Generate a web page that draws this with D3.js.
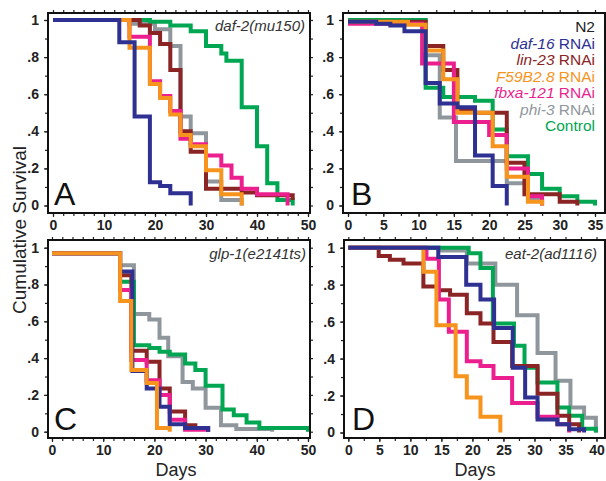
<!DOCTYPE html>
<html><head><meta charset="utf-8">
<script src="https://cdn.jsdelivr.net/npm/d3@7"></script>
<style>body{margin:0;background:#fff}svg{display:block}</style>
</head><body><svg id="c" width="606" height="481"></svg>
<script>
// ---------- DATA ----------
const seriesNames = ["daf-16", "lin-23", "F59B2.8", "fbxa-121", "phi-3", "Control"];
const yTicks = [0, 0.2, 0.4, 0.6, 0.8, 1];
const yTickLabels = ["0", ".2", ".4", ".6", ".8", "1"];
const xTicksA = [0, 10, 20, 30, 40, 50];
const xTicksB = [0, 5, 10, 15, 20, 25, 30, 35];
const xTicksC = [0, 10, 20, 30, 40, 50];
const xTicksD = [0, 5, 10, 15, 20, 25, 30, 35, 40];

// Panel A: daf-2(mu150)  [day, survival]
const A_daf16 = [[0,1],[13,0.88],[16,0.48],[19,0.125],[21,0.105],[23,0.066],[27,0]];
const A_lin23 = [[0,1],[17,0.97],[19,0.93],[21,0.87],[23,0.73],[25,0.40],[27,0.29],[30,0.09],[37,0.07],[40,0.055],[47,0.03]];
const A_F59 = [[0,1],[15,0.85],[19,0.655],[21,0.58],[23,0.49],[25,0.38],[27,0.32],[30,0.19],[33,0.06],[37,0]];
const A_fbxa = [[0,1],[15,0.91],[19,0.67],[21,0.59],[23,0.51],[25,0.36],[27,0.33],[30,0.27],[33,0.215],[35,0.15],[37,0.09],[40,0.06],[46,0]];
const A_phi3 = [[0,1],[15,0.98],[20,0.95],[23,0.86],[25,0.48],[27,0.39],[30,0.13],[33,0.03],[37,0]];
const A_ctrl = [[0,1],[19,0.99],[23,0.97],[27,0.94],[30,0.86],[33,0.82],[34,0.78],[37,0.53],[40,0.32],[42,0.12],[44,0.03],[47,0]];

// Panel B: N2
const B_daf16 = [[0,0.99],[4,0.98],[6,0.97],[8,0.94],[11,0.66],[13,0.55],[15.5,0.53],[18,0.27],[20.5,0.105],[22.5,0]];
const B_lin23 = [[0,0.99],[11,0.86],[13.5,0.73],[15.5,0.52],[18,0.50],[22.5,0.23],[25,0.06],[30,0.02],[32.5,0]];
const B_F59 = [[0,0.99],[8.5,0.975],[11,0.835],[13.5,0.68],[15.5,0.50],[20.5,0.32],[22.5,0.155],[25.5,0.02],[27.5,0]];
const B_fbxa = [[0,0.98],[10.5,0.765],[15,0.45],[20,0.38],[22.5,0.2],[25.5,0.05],[27.5,0]];
const B_phi3 = [[0,1],[11,0.81],[13,0.475],[15.3,0.24],[22.5,0.12],[25.5,0.03],[27.5,0]];
const B_ctrl = [[0,1],[11,0.635],[13.5,0.585],[18,0.565],[20.5,0.41],[22.5,0.265],[25.5,0.17],[27.5,0.09],[30,0.05],[32.5,0.02],[35,0]];

// Panel C: glp-1(e2141ts)
const C_daf16 = [[0,0.97],[13.3,0.87],[15.7,0.33],[18.5,0.235],[21,0.135],[23,0.04],[26,0.02],[30.5,0]];
const C_lin23 = [[0,0.97],[13.3,0.85],[15.5,0.44],[18.5,0.38],[21,0.235],[23,0.11],[26,0.035],[28,0.02],[30.5,0]];
const C_F59 = [[0,0.97],[13.3,0.71],[15.5,0.335],[18.5,0.265],[20.5,0.02],[23,0]];
const C_fbxa = [[0,0.97],[13.3,0.77],[15.5,0.39],[18.5,0.28],[21,0.20],[23,0.065],[26,0.01],[30,0]];
const C_phi3 = [[0,0.97],[13.3,0.905],[16,0.64],[19,0.61],[21,0.51],[22.7,0.41],[25.5,0.27],[27.5,0.235],[30,0.13],[33,0.035],[36,0.015],[43,0]];
const C_ctrl = [[0,0.97],[13.3,0.815],[16,0.47],[19,0.455],[21,0.435],[23,0.42],[26,0.37],[28,0.335],[30,0.25],[33.3,0.12],[35.5,0.09],[38,0.05],[40.5,0.02],[50,0]];

// Panel D: eat-2(ad1116)
const D_daf16 = [[0,1],[14.5,0.95],[19,0.80],[21.3,0.72],[23.5,0.565],[26.5,0.35],[28.5,0.19],[30.5,0.07],[33.7,0.045],[35.6,0.018],[38,0]];
const D_lin23 = [[0,1],[4.9,0.955],[6.7,0.935],[8.9,0.915],[12.1,0.79],[14.3,0.77],[16.4,0.745],[19.1,0.645],[21.3,0.59],[23.4,0.49],[26.4,0.36],[30.5,0.21],[33.7,0.09],[35.6,0.045],[37.2,0]];
const D_F59 = [[0,1],[12.1,0.87],[14.2,0.58],[17.3,0.305],[19.1,0.19],[21.3,0.085],[24.5,0]];
const D_fbxa = [[0,1],[12.6,0.94],[14.6,0.72],[16.2,0.545],[19.1,0.385],[21.3,0.36],[23.4,0.295],[26.4,0.16],[30.5,0.085],[33.7,0.045],[35.6,0]];
const D_phi3 = [[0,1],[14.6,0.985],[19.1,0.915],[23.7,0.80],[27.2,0.635],[30.5,0.43],[33.4,0.28],[35.8,0.135],[38,0.08],[39.9,0]];
const D_ctrl = [[0,1],[19.4,0.97],[21.3,0.89],[23.3,0.59],[26.7,0.47],[28.4,0.35],[30.5,0.27],[33.7,0.135],[35.6,0.09],[37.7,0.02],[39.9,0]];

// ---------- STYLE / LAYOUT ----------
const color = {"daf-16":"#2e3192","lin-23":"#8b2424","F59B2.8":"#f7941d","fbxa-121":"#ec1f8e","phi-3":"#8f979c","Control":"#00a651"};
const FONT = "Arial, 'Liberation Sans', Helvetica, sans-serif";

const panels = [
  {letter:"A", box:[48,13,310,213], xr:[53,308], yr:[205.5,20], xdom:[0,50], xt:xTicksA, xminor:2, title:"daf-2(mu150)", titleX:305, titleY:31,
   series:{"daf-16":A_daf16,"lin-23":A_lin23,"F59B2.8":A_F59,"fbxa-121":A_fbxa,"phi-3":A_phi3,"Control":A_ctrl},
   order:["phi-3","Control","lin-23","fbxa-121","F59B2.8","daf-16"]},
  {letter:"B", box:[343,13,605,213], xr:[348,595], yr:[205.5,20], xdom:[0,35], xt:xTicksB, xminor:2.5, title:null,
   series:{"daf-16":B_daf16,"lin-23":B_lin23,"F59B2.8":B_F59,"fbxa-121":B_fbxa,"phi-3":B_phi3,"Control":B_ctrl},
   order:["phi-3","Control","lin-23","fbxa-121","F59B2.8","daf-16"]},
  {letter:"C", box:[48,240,310,438], xr:[52,308], yr:[431.7,247.7], xdom:[0,50], xt:xTicksC, xminor:2, title:"glp-1(e2141ts)", titleX:306, titleY:259,
   series:{"daf-16":C_daf16,"lin-23":C_lin23,"F59B2.8":C_F59,"fbxa-121":C_fbxa,"phi-3":C_phi3,"Control":C_ctrl},
   order:["phi-3","Control","lin-23","fbxa-121","daf-16","F59B2.8"]},
  {letter:"D", box:[344,240,605,438], xr:[348.3,596.5], yr:[432.5,247.7], xdom:[0,40], xt:xTicksD, xminor:2.5, title:"eat-2(ad1116)", titleX:597, titleY:259,
   series:{"daf-16":D_daf16,"lin-23":D_lin23,"F59B2.8":D_F59,"fbxa-121":D_fbxa,"phi-3":D_phi3,"Control":D_ctrl},
   order:["phi-3","Control","lin-23","fbxa-121","F59B2.8","daf-16"]}
];

const svg = d3.select("#c").style("font-family", FONT);

panels.forEach(p => {
  const [x0,y0,x1,y1] = p.box;
  const x = d3.scaleLinear().domain(p.xdom).range(p.xr);
  const y = d3.scaleLinear().domain([0,1]).range(p.yr);
  const g = svg.append("g");

  const xMinor = d3.range(p.xdom[0], p.xdom[1] + 0.001, p.xminor);
  const yMinor = d3.range(0, 1.001, 0.1);
  const mk = (axis, tr) => {
    const a = g.append("g").attr("transform", tr).call(axis);
    a.select(".domain").remove();
    a.selectAll("line").attr("stroke", "#222").attr("stroke-width", 1.2);
    return a;
  };
  mk(d3.axisBottom(x).tickValues(xMinor).tickSize(3).tickFormat(""), `translate(0,${y1})`);
  mk(d3.axisTop(x).tickValues(xMinor).tickSize(3).tickFormat(""), `translate(0,${y0})`);
  mk(d3.axisLeft(y).tickValues(yMinor).tickSize(3).tickFormat(""), `translate(${x0},0)`);
  mk(d3.axisRight(y).tickValues(yMinor).tickSize(3).tickFormat(""), `translate(${x1},0)`);

  const ax = mk(d3.axisBottom(x).tickValues(p.xt).tickSize(4).tickPadding(3).tickFormat(d3.format("d")), `translate(0,${y1})`);
  ax.selectAll("text").attr("font-size", 14).attr("font-weight", "bold").attr("fill", "#222").attr("font-family", FONT);
  const ay = mk(d3.axisLeft(y).tickValues(yTicks).tickSize(4).tickPadding(5).tickFormat((d,i) => yTickLabels[i]), `translate(${x0},0)`);
  ay.selectAll("text").attr("font-size", 14).attr("font-weight", "bold").attr("fill", "#222").attr("font-family", FONT);

  const line = d3.line().x(d => x(d[0])).y(d => y(d[1])).curve(d3.curveStepAfter);
  const clipId = "clip" + p.letter;
  g.append("clipPath").attr("id", clipId).append("rect").attr("x", x0+1).attr("y", y0+1).attr("width", x1-x0-2).attr("height", y1-y0-2);
  const cg = g.append("g").attr("clip-path", `url(#${clipId})`);
  p.order.forEach(name => {
    cg.append("path").datum(p.series[name]).attr("d", line)
      .attr("fill", "none").attr("stroke", color[name]).attr("stroke-width", 4)
      .attr("stroke-linejoin", "miter").attr("stroke-linecap", "butt");
  });

  g.append("rect").attr("x", x0).attr("y", y0).attr("width", x1-x0).attr("height", y1-y0)
    .attr("fill", "none").attr("stroke", "#111").attr("stroke-width", 2);

  g.append("text").attr("x", p.letter==="A"||p.letter==="C" ? x0+6 : x0+8).attr("y", y1-8)
    .attr("font-size", 32).attr("fill", "#111").text(p.letter);

  if (p.title) {
    g.append("text").attr("x", p.titleX).attr("y", p.titleY).attr("text-anchor", "end")
      .attr("font-size", 15).attr("font-style", "italic").attr("fill", "#333").text(p.title);
  }
});

// legend in panel B
const legX = 595;
const legend = svg.append("g").attr("font-size", 15.5).attr("text-anchor", "end");
legend.append("text").attr("x", legX).attr("y", 32).attr("fill", "#222").text("N2");
seriesNames.forEach((name, i) => {
  const t = legend.append("text").attr("x", legX).attr("y", 49 + i*16.4).attr("fill", color[name]);
  if (name === "Control") { t.text("Control"); }
  else {
    t.append("tspan").attr("font-style", "italic").text(name);
    t.append("tspan").text(" RNAi");
  }
});

// axis titles
svg.append("text").attr("transform", "translate(26,230) rotate(-90)").attr("text-anchor", "middle")
  .attr("font-size", 19).attr("fill", "#222").text("Cumulative Survival");
svg.append("text").attr("x", 176).attr("y", 476).attr("text-anchor", "middle").attr("font-size", 18).attr("fill", "#222").text("Days");
svg.append("text").attr("x", 475).attr("y", 476).attr("text-anchor", "middle").attr("font-size", 18).attr("fill", "#222").text("Days");
</script></body></html>
